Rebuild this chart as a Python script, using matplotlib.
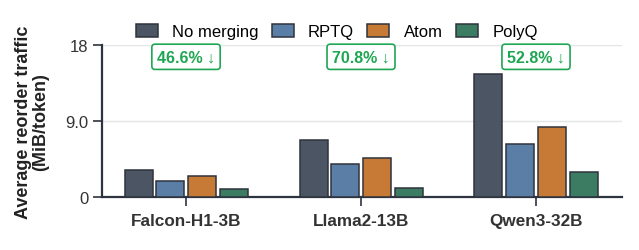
import matplotlib
matplotlib.use("Agg")
import matplotlib.pyplot as plt
import numpy as np

models = ["Falcon-H1-3B", "Llama2-13B", "Qwen3-32B"]
methods = ["No merging", "RPTQ", "Atom", "PolyQ"]
no_merging = [3.26, 6.80, 14.5]
rptq = [1.89, 3.89, 6.25]
atom = [2.51, 4.67, 8.25]
polyq = [1.00, 1.10, 2.95]
reductions = ["46.6% ↓", "70.8% ↓", "52.8% ↓"]
yticks = [0, 9.0, 18]
ytick_labels = ["0", "9.0", "18"]

colors = ["#4b5563", "#5b7ea6", "#c67a35", "#3b7c63"]
green = "#1fa653"

plt.rcParams["font.family"] = ["Liberation Sans", "DejaVu Sans"]

fig = plt.figure(figsize=(6.39, 2.51), dpi=100)
ax = fig.add_axes([0.1592, 0.21, 0.8138, 0.608])

series = [no_merging, rptq, atom, polyq]
x = np.arange(len(models))
step = 0.181
width = 0.16
handles = []
for i, (vals, c, name) in enumerate(zip(series, colors, methods)):
    b = ax.bar(x + (i - 1.5) * step, vals, width, color=c, edgecolor="#2f343c",
               linewidth=1.1, label=name, zorder=3)
    handles.append(b)

ax.set_xlim(-0.4817, 2.49)
ax.set_ylim(0, 18)
ax.set_yticks(yticks)
ax.set_yticklabels(ytick_labels)
ax.set_xticks(x)
ax.set_xticklabels(models, fontweight="bold")

ax.yaxis.grid(True, color="#e3e5e8", linewidth=1.0, zorder=0)
ax.set_axisbelow(True)
for s in ["top", "right"]:
    ax.spines[s].set_visible(False)
for s in ["left", "bottom"]:
    ax.spines[s].set_color("#2d3440")
    ax.spines[s].set_linewidth(1.6)

ax.tick_params(axis="y", length=6.5, width=1.2, color="#2d3440", labelsize=12,
               labelcolor="#333333", pad=3)
ax.tick_params(axis="x", length=6.5, width=1.2, color="#2d3440", labelsize=12.3,
               labelcolor="#333333", pad=5)

ax.set_ylabel("Average reorder traffic\n(MiB/token)", fontsize=13, fontweight="bold",
              color="#222222", labelpad=12, linespacing=0.95)

for xi, txt in zip(x, reductions):
    ax.text(xi, 16.57, txt, ha="center", va="center", fontsize=11.5, fontweight="bold",
            color=green, zorder=5,
            bbox=dict(boxstyle="round,pad=0.32,rounding_size=0.2", facecolor="white",
                      edgecolor=green, linewidth=1.2))

fig.legend(handles=handles, labels=methods, loc="center", bbox_to_anchor=(0.527, 0.8705),
           ncol=4, frameon=False, fontsize=12, handlelength=1.32, handleheight=0.78,
           handletextpad=0.86, columnspacing=0.8, borderpad=0.2)

fig.savefig("out.png", dpi=100)
